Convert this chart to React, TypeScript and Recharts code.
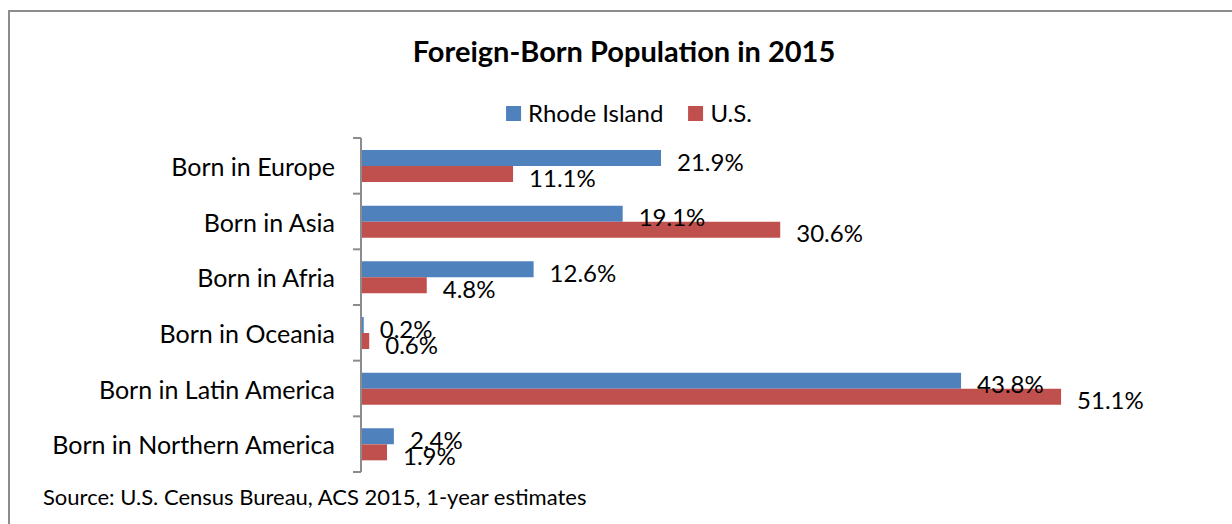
import React from 'react';
import { BarChart, Bar, XAxis, YAxis, LabelList } from 'recharts';

const categories = [
  'Born in Europe',
  'Born in Asia',
  'Born in Afria',
  'Born in Oceania',
  'Born in Latin America',
  'Born in Northern America',
];
const rhodeIsland = [21.9, 19.1, 12.6, 0.2, 43.8, 2.4];
const us = [11.1, 30.6, 4.8, 0.6, 51.1, 1.9];
const seriesNames = ['Rhode Island', 'U.S.'];
const seriesColors = ['#4F81BD', '#C0504D'];
const title = 'Foreign-Born Population in 2015';
const source = 'Source: U.S. Census Bureau, ACS 2015, 1-year estimates';

const data = categories.map((c, i) => ({ name: c, ri: rhodeIsland[i], us: us[i] }));

const FONT = 'Lato, "Noto Sans", sans-serif';
const CHART_W = 1222;
const CHART_H = 500;
const MARGIN = { top: 126, right: 49, bottom: 40, left: 0 };
const PLOT_H = CHART_H - MARGIN.top - MARGIN.bottom;
const BAND = PLOT_H / categories.length;
const AXIS_COLOR = '#8C8C8C';

const CategoryTick = (props: any) => {
  const { x, y, payload, index } = props;
  const top = y - BAND / 2;
  const bottom = y + BAND / 2;
  return (
    <g>
      <line x1={x} x2={x + 8} y1={top} y2={top} stroke={AXIS_COLOR} strokeWidth={2} />
      {index === categories.length - 1 && (
        <line x1={x} x2={x + 8} y1={bottom} y2={bottom} stroke={AXIS_COLOR} strokeWidth={2} />
      )}
      <text x={x - 18} y={y} textAnchor="end" dominantBaseline="central" fontSize={25} fill="#000" fontFamily={FONT}>
        {payload.value}
      </text>
    </g>
  );
};

const ValueLabel = (props: any) => {
  const { x, y, width, height, value } = props;
  return (
    <text
      x={x + width + 16}
      y={y + height / 2 + 3}
      dominantBaseline="central"
      fontSize={24}
      fill="#000"
      fontFamily={FONT}
    >
      {`${Number(value).toFixed(1)}%`}
    </text>
  );
};

export default function App() {
  return (
    <div
      style={{
        position: 'fixed',
        top: 10,
        left: 8,
        width: 1230,
        height: 520,
        borderTop: `2px solid ${AXIS_COLOR}`,
        borderLeft: `2px solid ${AXIS_COLOR}`,
        background: '#fff',
        fontFamily: FONT,
      }}
    >
      <div
        style={{
          position: 'absolute',
          left: 614,
          top: 24,
          transform: 'translateX(-50%)',
          fontSize: 29,
          fontWeight: 700,
          lineHeight: 1,
          whiteSpace: 'nowrap',
          color: '#000',
        }}
      >
        {title}
      </div>
      <div
        style={{
          position: 'absolute',
          left: 619,
          top: 89,
          transform: 'translateX(-50%)',
          display: 'flex',
          alignItems: 'center',
          fontSize: 24,
          lineHeight: '24px',
          whiteSpace: 'nowrap',
          color: '#000',
        }}
      >
        {seriesNames.map((n, i) => (
          <span key={n} style={{ display: 'flex', alignItems: 'center', marginRight: i === 0 ? 25 : 0 }}>
            <span style={{ width: 15, height: 15, background: seriesColors[i], marginRight: 7, display: 'inline-block' }} />
            {n}
          </span>
        ))}
      </div>
      <div style={{ position: 'absolute', left: 0, top: 0 }}>
        <BarChart
          width={CHART_W}
          height={CHART_H}
          data={data}
          layout="vertical"
          margin={MARGIN}
          barGap={0}
          barSize={16}
        >
          <XAxis type="number" domain={[0, 60]} hide />
          <YAxis
            type="category"
            dataKey="name"
            width={351}
            axisLine={{ stroke: AXIS_COLOR, strokeWidth: 2 }}
            tickLine={false}
            tick={<CategoryTick />}
            interval={0}
          />
          <Bar dataKey="ri" name={seriesNames[0]} fill={seriesColors[0]} isAnimationActive={false}>
            <LabelList dataKey="ri" content={<ValueLabel />} />
          </Bar>
          <Bar dataKey="us" name={seriesNames[1]} fill={seriesColors[1]} isAnimationActive={false}>
            <LabelList dataKey="us" content={<ValueLabel />} />
          </Bar>
        </BarChart>
      </div>
      <div
        style={{
          position: 'absolute',
          left: 33,
          top: 474,
          fontSize: 22,
          lineHeight: 1,
          whiteSpace: 'nowrap',
          color: '#000',
        }}
      >
        {source}
      </div>
    </div>
  );
}
